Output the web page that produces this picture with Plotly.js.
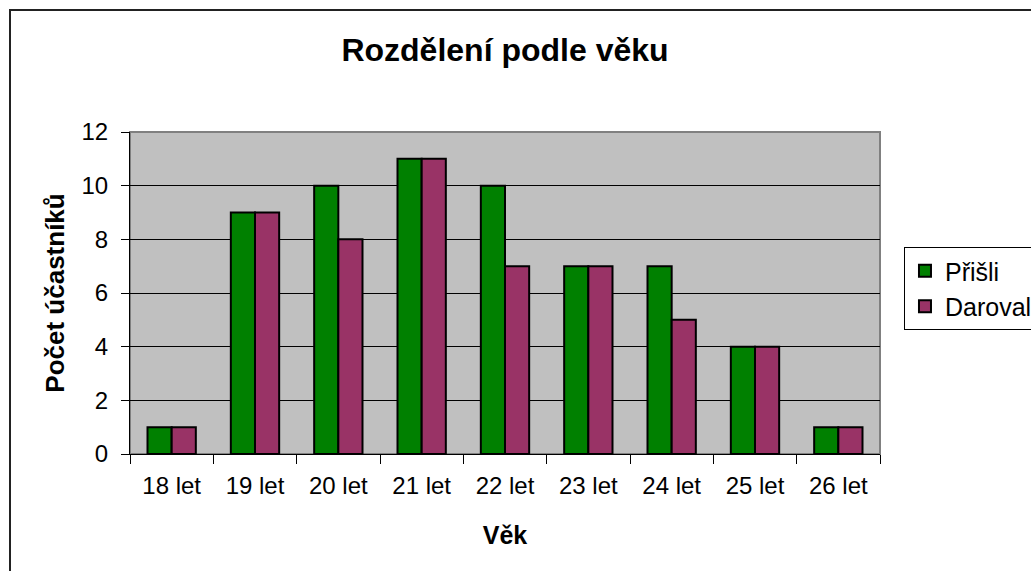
<!DOCTYPE html>
<html><head><meta charset="utf-8">
<script src="https://cdn.plot.ly/plotly-3.0.1.min.js"></script>
<style>
html,body{margin:0;padding:0;overflow:hidden;background:#fff;}
#frame{position:absolute;left:9px;top:9px;width:1200px;height:800px;border-style:solid;border-color:#222;border-width:2px 0 0 2px;pointer-events:none;box-sizing:border-box;}
</style></head>
<body>
<div id="chart" style="width:1031px;height:571px;"></div>
<div id="frame"></div>
<script>
const categories = ["18 let","19 let","20 let","21 let","22 let","23 let","24 let","25 let","26 let"];
const prisli = [1,9,10,11,10,7,7,4,1];
const darovali = [1,9,8,11,7,7,5,4,1];
const seriesNames = ["Přišli","Darovali"];
const yTicks = [0,2,4,6,8,10,12];

const font = "Arial, Liberation Sans, sans-serif";
const traces = [
  {type:"bar", x:categories, y:prisli, name:seriesNames[0], marker:{color:"#008000", line:{color:"#000", width:2}}},
  {type:"bar", x:categories, y:darovali, name:seriesNames[1], marker:{color:"#993366", line:{color:"#000", width:2}}}
];
const layout = {
  width:1031, height:571,
  margin:{l:130, r:151, t:132, b:117},
  paper_bgcolor:"#fff", plot_bgcolor:"#C0C0C0",
  font:{family:font, color:"#000", size:24},
  title:{text:"<b>Rozdělení podle věku</b>", font:{size:32, family:font}, x:0.5, xref:"paper", xanchor:"center", y:0.912, yanchor:"middle"},
  barmode:"group", bargap:0.42, bargroupgap:0,
  showlegend:true,
  legend:{xref:"container", yref:"container", x:0.8768, y:0.5674, xanchor:"left", yanchor:"top", bordercolor:"#000", borderwidth:1, bgcolor:"#fff", font:{size:25, family:font}, tracegroupgap:0, itemwidth:30},
  xaxis:{type:"category", showgrid:false, tickson:"boundaries", ticks:"outside", ticklen:9, tickcolor:"#000", tickwidth:1,
    showline:true, linecolor:"#000", linewidth:1, tickfont:{size:24}, ticklabelstandoff:10,
    title:{text:"<b>Věk</b>", font:{size:25}, standoff:28}},
  yaxis:{range:[0,12], tickvals:yTicks, ticks:"outside", ticklen:8, tickcolor:"#000", showgrid:true, gridcolor:"#000", gridwidth:1,
    zeroline:false, showline:true, linecolor:"#000", linewidth:1, tickfont:{size:24}, ticklabelstandoff:8,
    title:{text:"<b>Počet účastníků</b>", font:{size:26}, standoff:9}},
  shapes:[{type:"rect", xref:"paper", yref:"paper", x0:0, x1:1, y0:0, y1:1, line:{color:"#808080", width:2}, layer:"below"}]
};
Plotly.newPlot("chart", traces, layout, {displayModeBar:false, staticPlot:true});
</script>
</body></html>
